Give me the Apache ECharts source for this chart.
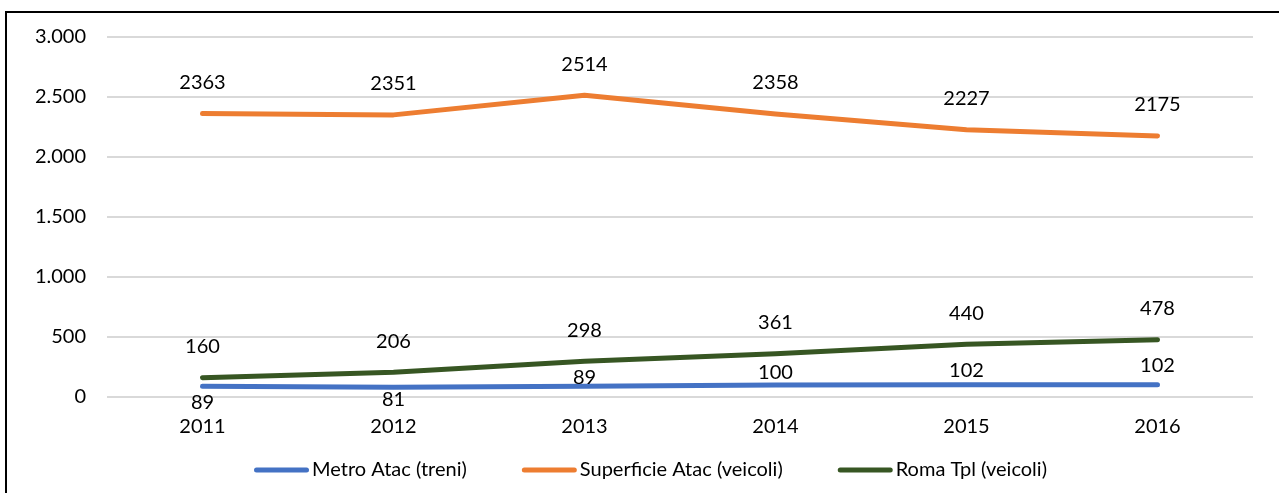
<!DOCTYPE html>
<html>
<head>
<meta charset="utf-8">
<script src="https://cdn.jsdelivr.net/npm/echarts@6/dist/echarts.min.js"></script>
<style>
  html, body { margin: 0; padding: 0; background: #fff; }
  #chart { width: 1279px; height: 493px; }
</style>
</head>
<body>
<div id="chart"></div>
<script>
// Anni di riferimento
const years = ['2011', '2012', '2013', '2014', '2015', '2016'];

// Mezzi in servizio per gestore
const metroAtac = [89, 81, 89, 100, 102, 102];
const superficieAtac = [2363, 2351, 2514, 2358, 2227, 2175];
const romaTpl = [160, 206, 298, 361, 440, 478];

// Etichette dell'asse verticale
const yTicks = [0, 500, 1000, 1500, 2000, 2500, 3000];

// Spostamento verticale delle etichette della metro (px dal punto)
const metroLabelShift = [16, 12, -9, -12, -14, -19];

const FONT = 'Lato, "Open Sans", sans-serif';
const TEXT = '#000000';
const SIZE = 20;

const fmt = v => String(v).replace(/\B(?=(\d{3})+(?!\d))/g, '.');

function labelled(values, shifts) {
  return values.map((v, i) => ({
    value: v,
    label: { offset: [0, shifts ? shifts[i] : -31] }
  }));
}

function lineSeries(name, color, values, shifts) {
  return {
    name: name,
    type: 'line',
    data: labelled(values, shifts),
    symbol: 'circle',
    symbolSize: 0.1,
    itemStyle: { color: color },
    lineStyle: { color: color, width: 5, cap: 'round', join: 'round' },
    label: {
      show: true,
      position: 'inside',
      color: TEXT,
      fontFamily: FONT,
      fontSize: SIZE,
      lineHeight: 20
    },
    emphasis: { disabled: true },
    animation: false
  };
}

const legendIcon = 'path://M2.5,0 L52.5,0 A2.5,2.5 0 0 1 52.5,5 L2.5,5 A2.5,2.5 0 0 1 2.5,0 Z';

const chart = echarts.init(document.getElementById('chart'), null, { renderer: 'canvas' });
chart.setOption({
  backgroundColor: '#ffffff',
  animation: false,
  grid: { left: 107, right: 26, top: 37, bottom: 96, containLabel: false },
  graphic: [{
    type: 'rect',
    shape: { x: 6, y: 12, width: 1400, height: 700 },
    style: { fill: 'none', stroke: '#000000', lineWidth: 2 },
    silent: true,
    z: 100
  }],
  legend: {
    left: 249,
    top: 455,
    icon: legendIcon,
    itemWidth: 55,
    itemHeight: 5,
    itemGap: 55,
    textStyle: { color: TEXT, fontFamily: FONT, fontSize: SIZE, padding: [0, 0, 0, -2] },
    data: ['Metro Atac (treni)', 'Superficie Atac (veicoli)', 'Roma Tpl (veicoli)']
  },
  xAxis: {
    type: 'category',
    data: years,
    boundaryGap: true,
    axisLine: { show: false },
    axisTick: { show: false },
    axisLabel: { color: TEXT, fontFamily: FONT, fontSize: SIZE, lineHeight: 20, margin: 20 }
  },
  yAxis: {
    type: 'value',
    min: yTicks[0],
    max: yTicks[yTicks.length - 1],
    interval: yTicks[1] - yTicks[0],
    axisLine: { show: false },
    axisTick: { show: false },
    splitLine: { lineStyle: { color: '#d9d9d9', width: 2 } },
    axisLabel: { color: TEXT, fontFamily: FONT, fontSize: SIZE, margin: 21, formatter: v => fmt(v) }
  },
  series: [
    lineSeries('Metro Atac (treni)', '#4472C4', metroAtac, metroLabelShift),
    lineSeries('Superficie Atac (veicoli)', '#ED7D31', superficieAtac),
    lineSeries('Roma Tpl (veicoli)', '#375623', romaTpl)
  ]
});
</script>
</body>
</html>
